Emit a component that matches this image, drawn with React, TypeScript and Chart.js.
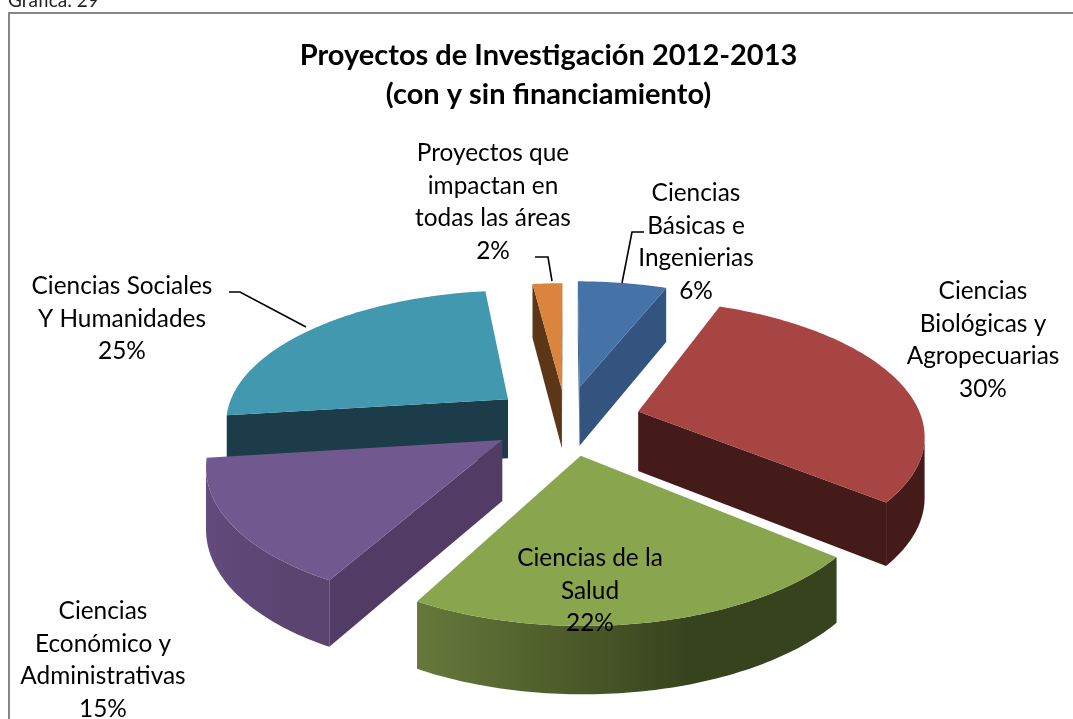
import React, { useEffect, useRef } from "react";
import { Chart, registerables } from "chart.js";

Chart.register(...registerables);

const titleLines = ["Proyectos de Investigación 2012-2013", "(con y sin financiamiento)"];
const caption = "Gráfica: 29";
const categories = [
  "Ciencias Básicas e Ingenierias",
  "Ciencias Biológicas y Agropecuarias",
  "Ciencias de la Salud",
  "Ciencias Económico y Administrativas",
  "Ciencias Sociales Y Humanidades",
  "Proyectos que impactan en todas las áreas",
];
const labelLines = [
  ["Ciencias", "Básicas e", "Ingenierias"],
  ["Ciencias", "Biológicas y", "Agropecuarias"],
  ["Ciencias de la", "Salud"],
  ["Ciencias", "Económico y", "Administrativas"],
  ["Ciencias Sociales", "Y Humanidades"],
  ["Proyectos que", "impactan en", "todas las áreas"],
];
const values = [6, 30, 22, 15, 25, 2];
const explosion = [0.265, 0.265, 0.265, 0.265, 0.265, 0.24];
const topColors = ["#4572A7", "#A74543", "#89A54E", "#71588F", "#4198AF", "#DB843D"];
const radialSideColors = ["#32547F", "#451B1A", "#37431D", "#523C66", "#1B3C48", "#5B3717"];
const arcSideColors = [
  ["#32547F", "#32547F"],
  ["#451B1A", "#451B1A"],
  ["#66793A", "#37431D"],
  ["#634B7D", "#5A4470"],
  ["#1B3C48", "#1B3C48"],
  ["#5B3717", "#5B3717"],
];
const labelCentres = [
  [696, 193],
  [983, 291],
  [590, 558],
  [103, 611],
  [122, 286],
  [493, 153],
];
const leaders = [
  [[622, 283], [632, 232], [644, 232]],
  [[229, 292], [240, 292], [306, 327]],
  [[535, 257], [548, 257], [552, 281]],
];

const VIEW = { cx: 566, cy: 420, a: 284, b: 131.5, k: 0.155, depth: 60 };
const FONT = "Lato, 'Open Sans', sans-serif";
const LABEL_PX = 24.4;
const LINE_STEP = 32.7;

function project(u: number, v: number, h: number) {
  const w = 1 - VIEW.k * v;
  return {
    x: VIEW.cx + (VIEW.a * u) / w,
    y: VIEW.cy + (VIEW.b * v) / w + h * VIEW.depth * Math.pow(w, -0.6),
  };
}

function fillPoly(ctx: CanvasRenderingContext2D, pts: { x: number; y: number }[], style: any) {
  ctx.beginPath();
  pts.forEach((p, i) => (i ? ctx.lineTo(p.x, p.y) : ctx.moveTo(p.x, p.y)));
  ctx.closePath();
  ctx.fillStyle = style;
  ctx.fill();
}

const pie3d = {
  id: "pie3d",
  beforeDatasetsDraw(chart: any) {
    const ctx: CanvasRenderingContext2D = chart.ctx;
    const arcs = chart.getDatasetMeta(0).data as any[];
    const slices = arcs.map((arc, i) => {
      const start = arc.startAngle + Math.PI / 2;
      const end = arc.endAngle + Math.PI / 2;
      const mid = (start + end) / 2;
      const e = explosion[i];
      const ou = e * Math.sin(mid);
      const ov = -e * Math.cos(mid);
      const rim: { u: number; v: number }[] = [];
      const n = Math.max(2, Math.ceil((end - start) / (Math.PI / 180)));
      for (let s = 0; s <= n; s++) {
        const t = start + ((end - start) * s) / n;
        rim.push({ u: ou + Math.sin(t), v: ov - Math.cos(t) });
      }
      return { i, ou, ov, rim };
    });
    slices.sort((p, q) => p.ov - q.ov);

    for (const s of slices) {
      const tip = { u: s.ou, v: s.ov };
      const edge = (p: any, q: any, style: any) => {
        const a = project(p.u, p.v, 0);
        const b = project(q.u, q.v, 0);
        if (b.x < a.x - 0.01) {
          fillPoly(ctx, [a, b, project(q.u, q.v, 1), project(p.u, p.v, 1)], style);
        }
      };
      // outer rim: one polygon over the run of points that face the viewer
      const top = s.rim.map((p) => project(p.u, p.v, 0));
      const xs = top.map((p) => p.x);
      const grad = ctx.createLinearGradient(Math.min(...xs), 0, Math.max(...xs), 0);
      grad.addColorStop(0, arcSideColors[s.i][0]);
      grad.addColorStop(0.65, arcSideColors[s.i][1]);
      grad.addColorStop(1, arcSideColors[s.i][1]);
      const run: any[] = [];
      for (let j = 0; j < s.rim.length; j++) {
        const leaving = j < s.rim.length - 1 && top[j + 1].x < top[j].x;
        const arriving = j > 0 && top[j].x < top[j - 1].x;
        if (leaving || arriving) run.push(s.rim[j]);
      }
      if (run.length > 1) {
        fillPoly(
          ctx,
          [
            ...run.map((p) => project(p.u, p.v, 0)),
            ...run.slice().reverse().map((p) => project(p.u, p.v, 1)),
          ],
          grad
        );
      }
      // radial faces
      edge(tip, s.rim[0], radialSideColors[s.i]);
      edge(s.rim[s.rim.length - 1], tip, radialSideColors[s.i]);
      // top face
      fillPoly(
        ctx,
        [tip, ...s.rim].map((p) => project(p.u, p.v, 0)),
        topColors[s.i]
      );
    }

    // leader lines
    ctx.strokeStyle = "#000";
    ctx.lineWidth = 1.6;
    for (const line of leaders) {
      ctx.beginPath();
      line.forEach((p, i) => (i ? ctx.lineTo(p[0], p[1]) : ctx.moveTo(p[0], p[1])));
      ctx.stroke();
    }

    // data labels
    ctx.fillStyle = "#000";
    ctx.font = `${LABEL_PX}px ${FONT}`;
    ctx.textAlign = "center";
    ctx.textBaseline = "middle";
    labelLines.forEach((lines, i) => {
      const all = [...lines, `${values[i]}%`];
      all.forEach((txt, k) => {
        ctx.fillText(txt, labelCentres[i][0], labelCentres[i][1] + k * LINE_STEP);
      });
    });

    // frame and caption
    ctx.strokeStyle = "#868686";
    ctx.lineWidth = 2;
    ctx.beginPath();
    ctx.moveTo(9, 719);
    ctx.lineTo(9, 13);
    ctx.lineTo(1073, 13);
    ctx.stroke();
    ctx.textAlign = "left";
    ctx.textBaseline = "alphabetic";
    ctx.font = `19px ${FONT}`;
    ctx.fillStyle = "#222";
    ctx.fillText(caption, 8, 7);
    return false;
  },
};

export default function App() {
  const ref = useRef<HTMLCanvasElement>(null);
  useEffect(() => {
    document.documentElement.style.overflow = "hidden";
    document.body.style.margin = "0";
    const chart = new Chart(ref.current as HTMLCanvasElement, {
      type: "pie",
      data: {
        labels: categories,
        datasets: [{ data: values, backgroundColor: topColors, borderWidth: 0 }],
      },
      options: {
        responsive: false,
        animation: false,
        layout: { padding: { left: 24, top: 36 } },
        plugins: {
          legend: { display: false },
          tooltip: { enabled: false },
          title: {
            display: true,
            text: titleLines,
            color: "#000",
            font: { family: FONT, size: 29, weight: "bold", lineHeight: 1.35 },
            padding: { top: 0, bottom: 0 },
          },
        },
      },
      plugins: [pie3d],
    } as any);
    return () => chart.destroy();
  }, []);
  return <canvas ref={ref} width={1073} height={719} style={{ display: "block" }} />;
}
